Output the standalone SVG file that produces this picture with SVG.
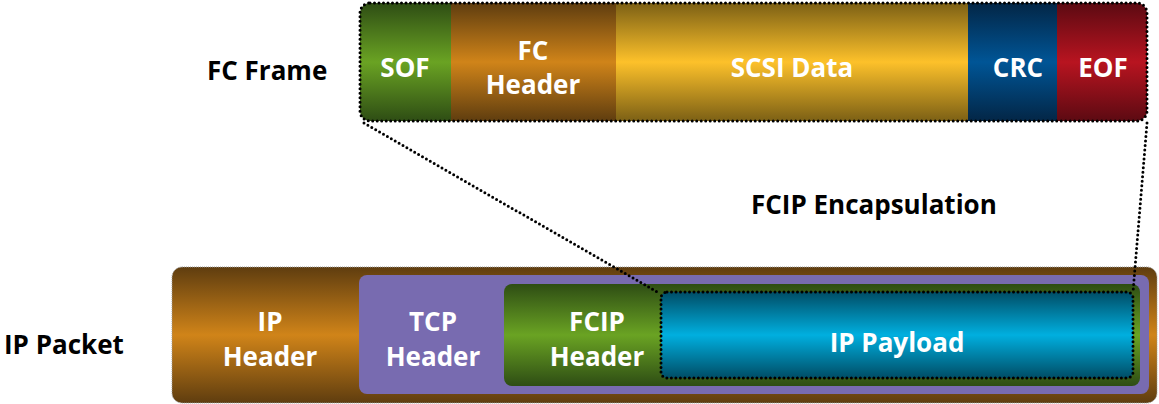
<svg xmlns="http://www.w3.org/2000/svg" width="1159" height="404" viewBox="0 0 1159 404">
<defs>
<linearGradient id="gGreen" x1="0" y1="0" x2="0" y2="1"><stop offset="0" stop-color="#2e4d14"/><stop offset="0.5" stop-color="#6aa323"/><stop offset="1" stop-color="#2e4d14"/></linearGradient>
<linearGradient id="gBrown" x1="0" y1="0" x2="0" y2="1"><stop offset="0" stop-color="#5f3d0f"/><stop offset="0.5" stop-color="#d08419"/><stop offset="1" stop-color="#5f3d0f"/></linearGradient>
<linearGradient id="gYellow" x1="0" y1="0" x2="0" y2="1"><stop offset="0" stop-color="#7c6015"/><stop offset="0.5" stop-color="#fdc12a"/><stop offset="1" stop-color="#7c6015"/></linearGradient>
<linearGradient id="gBlue" x1="0" y1="0" x2="0" y2="1"><stop offset="0" stop-color="#032646"/><stop offset="0.5" stop-color="#005596"/><stop offset="1" stop-color="#032646"/></linearGradient>
<linearGradient id="gRed" x1="0" y1="0" x2="0" y2="1"><stop offset="0" stop-color="#5c0a12"/><stop offset="0.5" stop-color="#b81420"/><stop offset="1" stop-color="#5c0a12"/></linearGradient>
<linearGradient id="gCyan" x1="0" y1="0" x2="0" y2="1"><stop offset="0" stop-color="#004d66"/><stop offset="0.5" stop-color="#00afdf"/><stop offset="1" stop-color="#004d66"/></linearGradient>
<clipPath id="fcClip"><rect x="360" y="3" width="787" height="118" rx="10"/></clipPath>
</defs>
<style>
.lbl{font-family:"Open Sans","Liberation Sans",sans-serif;font-weight:bold;font-size:26px;fill:#ffffff;text-anchor:middle}
.cap{font-family:"Open Sans","Liberation Sans",sans-serif;font-weight:bold;font-size:26px;fill:#000000}
.dot{fill:none;stroke:#000;stroke-width:3;stroke-linecap:round;stroke-dasharray:0 4.5}
</style>
<text class="cap" x="207" y="80">FC Frame</text>
<text class="cap" x="751" y="214">FCIP Encapsulation</text>
<text class="cap" x="4" y="354">IP Packet</text>
<g id="fc-frame">
<g clip-path="url(#fcClip)">
<rect id="sof" x="360" y="3" width="91" height="118" fill="url(#gGreen)"/>
<rect id="fc-header" x="451" y="3" width="165" height="118" fill="url(#gBrown)"/>
<rect id="scsi-data" x="616" y="3" width="352" height="118" fill="url(#gYellow)"/>
<rect id="crc" x="968" y="3" width="89" height="118" fill="url(#gBlue)"/>
<rect id="eof" x="1057" y="3" width="90" height="118" fill="url(#gRed)"/>
</g>
<rect class="dot" x="360" y="3" width="787" height="118" rx="10"/>
<text class="lbl" x="405" y="77">SOF</text>
<text class="lbl" x="533" y="60">FC</text>
<text class="lbl" x="533" y="94">Header</text>
<text class="lbl" x="792" y="77">SCSI Data</text>
<text class="lbl" x="1018" y="77">CRC</text>
<text class="lbl" x="1103" y="77">EOF</text>
</g>
<g id="ip-packet">
<rect x="172" y="267" width="985" height="136" rx="10" fill="url(#gBrown)" stroke="#9a9a9a" stroke-width="1" stroke-dasharray="1 1"/>
<text class="lbl" x="270" y="331">IP</text>
<text class="lbl" x="270" y="366">Header</text>
</g>
<g id="tcp-header">
<rect x="359" y="275" width="790" height="119" rx="8" fill="#786bb0"/>
<text class="lbl" x="433" y="331">TCP</text>
<text class="lbl" x="433" y="366">Header</text>
</g>
<g id="fcip-header">
<rect x="504" y="284" width="636" height="102" rx="8" fill="url(#gGreen)"/>
<text class="lbl" x="597" y="331">FCIP</text>
<text class="lbl" x="597" y="366">Header</text>
</g>
<g id="ip-payload">
<rect x="661" y="292" width="472" height="86" rx="6" fill="url(#gCyan)"/>
<rect class="dot" x="661" y="292" width="472" height="86" rx="6"/>
<text class="lbl" x="897" y="352">IP Payload</text>
</g>
<g id="connectors">
<line class="dot" x1="364" y1="123" x2="659" y2="293"/>
<line class="dot" x1="1147" y1="123" x2="1133" y2="292"/>
</g>
</svg>
